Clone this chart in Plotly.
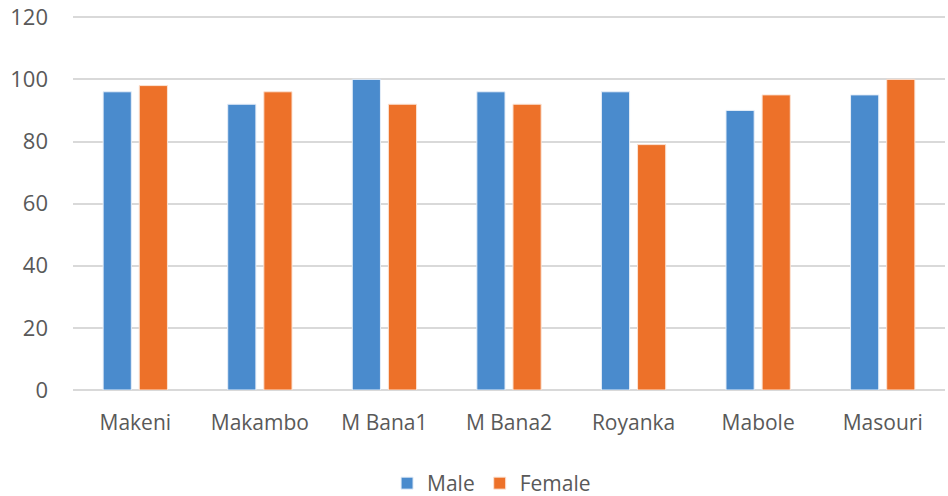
import plotly.graph_objects as go

categories = ["Makeni", "Makambo", "M Bana1", "M Bana2", "Royanka", "Mabole", "Masouri"]
male = [96, 92, 100, 96, 96, 90, 95]
female = [98, 96, 92, 92, 79, 95, 100]
y_ticks = [0, 20, 40, 60, 80, 100, 120]

FONT = "Open Sans"
TXT = "#595959"

fig = go.Figure()
fig.add_trace(go.Bar(name="Male", x=categories, y=male,
                     marker=dict(color="#4a8bcd", line=dict(color="#e6eef8", width=1))))
fig.add_trace(go.Bar(name="Female", x=categories, y=female,
                     marker=dict(color="#ed7129", line=dict(color="#fbe3d4", width=1))))

fig.update_layout(
    width=948, height=496,
    margin=dict(l=73, r=3, t=16, b=106, autoexpand=False),
    paper_bgcolor="white", plot_bgcolor="white",
    barmode="group", bargap=0.42, bargroupgap=0.22,
    font=dict(family=FONT, size=22, color=TXT),
    legend=dict(orientation="h", x=0.48, xanchor="center", y=-0.25, yanchor="middle",
                font=dict(family=FONT, size=21, color=TXT), itemwidth=30),
    showlegend=True,
)
fig.update_xaxes(showgrid=False, showline=False, ticks="", ticklabelstandoff=18,
                 tickfont=dict(size=21, color=TXT))
fig.update_yaxes(range=[0, 120.4], tickvals=y_ticks, showgrid=True, gridcolor="#d9d9d9",
                 gridwidth=1.5, zeroline=True, zerolinecolor="#d9d9d9", zerolinewidth=1.5,
                 showline=False, ticks="", ticklabelstandoff=24, tickfont=dict(size=22, color=TXT))

fig.write_html("out.html", config={"displayModeBar": False},
               post_script="document.body.style.margin='0';")
